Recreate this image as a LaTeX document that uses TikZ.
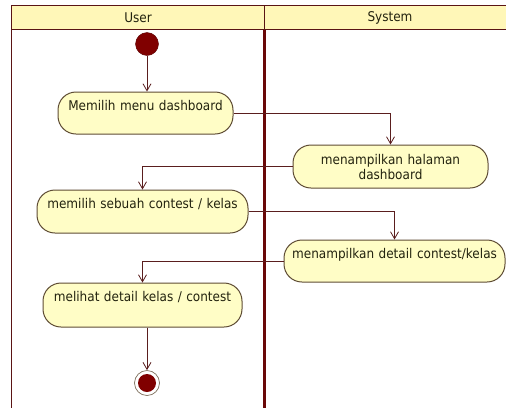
\documentclass[tikz,border=0pt]{standalone}
\usepackage{fontspec}
\setmainfont[FakeStretch=0.9]{DejaVu Sans}
\usetikzlibrary{arrows.meta,calc}
\definecolor{laneline}{HTML}{5A1414}
\definecolor{lanedivider}{HTML}{6A0808}
\definecolor{headfill}{HTML}{FFF7B8}
\definecolor{actfill}{HTML}{FFFDC6}
\definecolor{actdraw}{HTML}{5E4C34}
\definecolor{flowline}{HTML}{5A1E1E}
\definecolor{dotred}{HTML}{800000}
\definecolor{txt}{HTML}{23230F}
\newcommand{\acttop}[2]{\parbox[c][#1][t]{\linewidth}{\centering\vspace*{8pt}#2}}
\tikzset{
  x=1pt, y=-1pt,
  act/.style={draw=actdraw, line width=1pt, fill=actfill, rounded corners=18pt,
    inner sep=0pt, text=txt, font=\fontsize{13.4}{15}\selectfont, align=center},
  flow/.style={draw=flowline, line width=0.8pt,
    -{Straight Barb[length=7pt,width=8pt,line width=0.8pt]}},
  lanehead/.style={text=txt, font=\fontsize{13.4}{15}\selectfont, inner sep=0pt},
  startdot/.style={circle, fill=dotred, draw=dotred!70!black, minimum size=23pt, inner sep=0pt},
  enddot/.style={circle, draw=actdraw!80, line width=0.7pt, fill=white, minimum size=25pt, inner sep=0pt,
    path picture={\fill[dotred] (path picture bounding box.center) circle (9pt);}}
}
\begin{document}
\begin{tikzpicture}
\useasboundingbox (0,0) rectangle (506,408);
\fill[white] (0,0) rectangle (506,408);
% swimlane headers
\fill[headfill] (11.5,5.5) rectangle (506,29.5);
\draw[laneline, line width=1.2pt] (506,5.5) -- (11.5,5.5) -- (11.5,408);
\draw[laneline, line width=1.2pt] (11.5,29.5) -- (506,29.5);
\draw[laneline, line width=1.2pt] (264.5,5.5) -- (264.5,29.5);
\draw[lanedivider, line width=3.6pt] (264.5,29.5) -- (264.5,408);
\node[lanehead] (huser) at (138,17.5) {User};
\node[lanehead] (hsys) at (390,17.5) {System};
% activities
\node[startdot] (start) at (147,44) {};
\node[act, text width=175pt, minimum height=42pt] (n1) at (145.5,113)
  {\acttop{42pt}{Memilih menu dashboard}};
\node[act, text width=195pt, minimum height=43pt] (n2) at (390.5,166.5)
  {menampilkan halaman\\dashboard};
\node[act, text width=211pt, minimum height=43pt] (n3) at (142.5,211.5)
  {\acttop{43pt}{memilih sebuah contest / kelas}};
\node[act, text width=221pt, minimum height=42pt] (n4) at (394.5,261)
  {\acttop{42pt}{menampilkan detail contest/kelas}};
\node[act, text width=199pt, minimum height=44pt] (n5) at (142.5,305)
  {\acttop{44pt}{melihat detail kelas / contest}};
\node[enddot] (end) at (147,383) {};
% control flow
\draw[flow] (start.south) -- (start.south |- n1.north);
\draw[flow] (n1.east) -| (n2.north);
\draw[flow] (n2.west) -| (n3.north);
\draw[flow] (n3.east) -| (n4.north);
\draw[flow] (n4.west) -| (n5.north);
\draw[flow] (n5.south -| end.north) -- (end.north);
\end{tikzpicture}
\end{document}
